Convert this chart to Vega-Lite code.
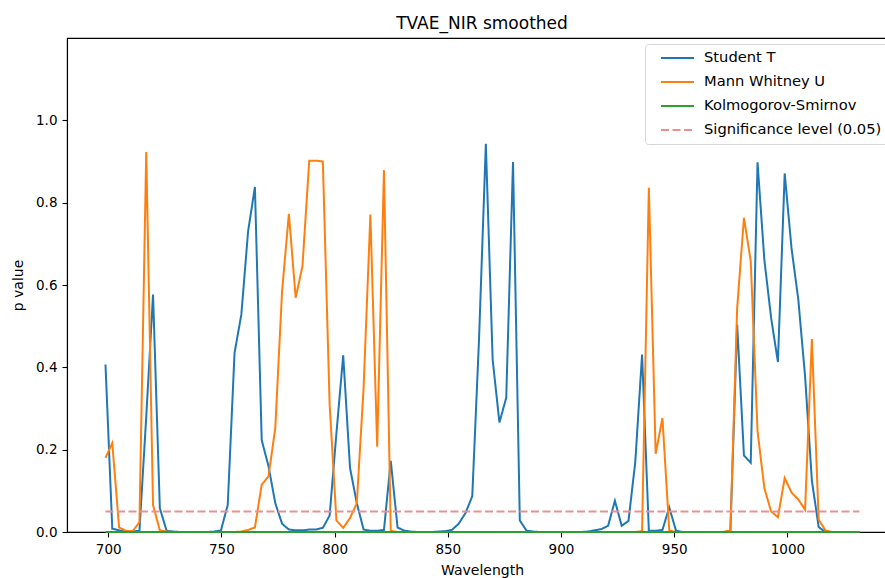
{
  "$schema": "https://vega.github.io/schema/vega-lite/v6.json",
  "width": 830,
  "height": 494,
  "autosize": {"type": "none"},
  "padding": {"left": 67, "top": 38, "right": 0, "bottom": 46},
  "background": "white",
  "title": {"text": "TVAE_NIR smoothed", "fontSize": 17, "font": "DejaVu Sans", "fontWeight": "normal", "color": "#000000", "offset": 5, "anchor": "middle"},
  "config": {
    "font": "DejaVu Sans",
    "view": {"stroke": "#000000", "strokeWidth": 1.1},
    "axis": {"domainColor": "#000000", "domainWidth": 1.1, "tickColor": "#000000", "tickWidth": 1.1, "tickSize": 5, "labelPadding": 5, "labelFontSize": 13.5, "labelColor": "#000000", "labelFont": "DejaVu Sans", "titleFont": "DejaVu Sans", "titleFontSize": 14, "titleFontWeight": "normal", "titleColor": "#000000", "grid": false}
  },
  "datasets": {
    "tests": [
      {"w": 698.8, "Student T": 0.407, "Mann Whitney U": 0.18, "Kolmogorov-Smirnov": 0},
      {"w": 701.8, "Student T": 0.008, "Mann Whitney U": 0.216, "Kolmogorov-Smirnov": 0},
      {"w": 704.8, "Student T": 0.004, "Mann Whitney U": 0.011, "Kolmogorov-Smirnov": 0},
      {"w": 707.8, "Student T": 0.001, "Mann Whitney U": 0.003, "Kolmogorov-Smirnov": 0},
      {"w": 710.8, "Student T": 0.001, "Mann Whitney U": 0.002, "Kolmogorov-Smirnov": 0},
      {"w": 713.8, "Student T": 0.003, "Mann Whitney U": 0.024, "Kolmogorov-Smirnov": 0},
      {"w": 716.8, "Student T": 0.28, "Mann Whitney U": 0.923, "Kolmogorov-Smirnov": 0},
      {"w": 719.8, "Student T": 0.577, "Mann Whitney U": 0.066, "Kolmogorov-Smirnov": 0},
      {"w": 722.8, "Student T": 0.058, "Mann Whitney U": 0.004, "Kolmogorov-Smirnov": 0},
      {"w": 725.8, "Student T": 0.003, "Mann Whitney U": 0.001, "Kolmogorov-Smirnov": 0},
      {"w": 728.8, "Student T": 0.001, "Mann Whitney U": 0, "Kolmogorov-Smirnov": 0},
      {"w": 731.8, "Student T": 0, "Mann Whitney U": 0, "Kolmogorov-Smirnov": 0},
      {"w": 734.8, "Student T": 0, "Mann Whitney U": 0, "Kolmogorov-Smirnov": 0},
      {"w": 737.8, "Student T": 0, "Mann Whitney U": 0, "Kolmogorov-Smirnov": 0},
      {"w": 740.8, "Student T": 0, "Mann Whitney U": 0, "Kolmogorov-Smirnov": 0},
      {"w": 743.8, "Student T": 0, "Mann Whitney U": 0, "Kolmogorov-Smirnov": 0},
      {"w": 746.8, "Student T": 0.001, "Mann Whitney U": 0, "Kolmogorov-Smirnov": 0},
      {"w": 749.8, "Student T": 0.004, "Mann Whitney U": 0, "Kolmogorov-Smirnov": 0},
      {"w": 752.8, "Student T": 0.066, "Mann Whitney U": 0, "Kolmogorov-Smirnov": 0},
      {"w": 755.8, "Student T": 0.435, "Mann Whitney U": 0, "Kolmogorov-Smirnov": 0},
      {"w": 758.8, "Student T": 0.528, "Mann Whitney U": 0.001, "Kolmogorov-Smirnov": 0},
      {"w": 761.8, "Student T": 0.731, "Mann Whitney U": 0.005, "Kolmogorov-Smirnov": 0},
      {"w": 764.8, "Student T": 0.838, "Mann Whitney U": 0.011, "Kolmogorov-Smirnov": 0},
      {"w": 767.8, "Student T": 0.223, "Mann Whitney U": 0.115, "Kolmogorov-Smirnov": 0},
      {"w": 770.8, "Student T": 0.16, "Mann Whitney U": 0.135, "Kolmogorov-Smirnov": 0},
      {"w": 773.8, "Student T": 0.07, "Mann Whitney U": 0.253, "Kolmogorov-Smirnov": 0},
      {"w": 776.8, "Student T": 0.02, "Mann Whitney U": 0.585, "Kolmogorov-Smirnov": 0},
      {"w": 779.8, "Student T": 0.006, "Mann Whitney U": 0.773, "Kolmogorov-Smirnov": 0},
      {"w": 782.8, "Student T": 0.004, "Mann Whitney U": 0.569, "Kolmogorov-Smirnov": 0},
      {"w": 785.8, "Student T": 0.004, "Mann Whitney U": 0.646, "Kolmogorov-Smirnov": 0},
      {"w": 788.8, "Student T": 0.006, "Mann Whitney U": 0.902, "Kolmogorov-Smirnov": 0},
      {"w": 791.8, "Student T": 0.006, "Mann Whitney U": 0.902, "Kolmogorov-Smirnov": 0},
      {"w": 794.8, "Student T": 0.01, "Mann Whitney U": 0.9, "Kolmogorov-Smirnov": 0},
      {"w": 797.8, "Student T": 0.04, "Mann Whitney U": 0.31, "Kolmogorov-Smirnov": 0},
      {"w": 800.8, "Student T": 0.24, "Mann Whitney U": 0.028, "Kolmogorov-Smirnov": 0},
      {"w": 803.8, "Student T": 0.429, "Mann Whitney U": 0.01, "Kolmogorov-Smirnov": 0},
      {"w": 806.8, "Student T": 0.156, "Mann Whitney U": 0.034, "Kolmogorov-Smirnov": 0},
      {"w": 809.8, "Student T": 0.07, "Mann Whitney U": 0.07, "Kolmogorov-Smirnov": 0},
      {"w": 812.8, "Student T": 0.006, "Mann Whitney U": 0.35, "Kolmogorov-Smirnov": 0},
      {"w": 815.8, "Student T": 0.003, "Mann Whitney U": 0.771, "Kolmogorov-Smirnov": 0},
      {"w": 818.8, "Student T": 0.003, "Mann Whitney U": 0.207, "Kolmogorov-Smirnov": 0},
      {"w": 821.8, "Student T": 0.005, "Mann Whitney U": 0.879, "Kolmogorov-Smirnov": 0},
      {"w": 824.8, "Student T": 0.173, "Mann Whitney U": 0.003, "Kolmogorov-Smirnov": 0},
      {"w": 827.8, "Student T": 0.011, "Mann Whitney U": 0, "Kolmogorov-Smirnov": 0},
      {"w": 830.8, "Student T": 0.003, "Mann Whitney U": 0, "Kolmogorov-Smirnov": 0},
      {"w": 833.8, "Student T": 0.001, "Mann Whitney U": 0, "Kolmogorov-Smirnov": 0},
      {"w": 836.8, "Student T": 0, "Mann Whitney U": 0, "Kolmogorov-Smirnov": 0},
      {"w": 839.8, "Student T": 0, "Mann Whitney U": 0, "Kolmogorov-Smirnov": 0},
      {"w": 842.8, "Student T": 0, "Mann Whitney U": 0, "Kolmogorov-Smirnov": 0},
      {"w": 845.8, "Student T": 0.001, "Mann Whitney U": 0, "Kolmogorov-Smirnov": 0},
      {"w": 848.8, "Student T": 0.002, "Mann Whitney U": 0, "Kolmogorov-Smirnov": 0},
      {"w": 851.8, "Student T": 0.005, "Mann Whitney U": 0, "Kolmogorov-Smirnov": 0},
      {"w": 854.8, "Student T": 0.02, "Mann Whitney U": 0, "Kolmogorov-Smirnov": 0},
      {"w": 857.8, "Student T": 0.046, "Mann Whitney U": 0, "Kolmogorov-Smirnov": 0},
      {"w": 860.8, "Student T": 0.087, "Mann Whitney U": 0, "Kolmogorov-Smirnov": 0},
      {"w": 863.8, "Student T": 0.47, "Mann Whitney U": 0, "Kolmogorov-Smirnov": 0},
      {"w": 866.8, "Student T": 0.943, "Mann Whitney U": 0, "Kolmogorov-Smirnov": 0},
      {"w": 869.8, "Student T": 0.419, "Mann Whitney U": 0, "Kolmogorov-Smirnov": 0},
      {"w": 872.8, "Student T": 0.266, "Mann Whitney U": 0, "Kolmogorov-Smirnov": 0},
      {"w": 875.8, "Student T": 0.326, "Mann Whitney U": 0, "Kolmogorov-Smirnov": 0},
      {"w": 878.8, "Student T": 0.899, "Mann Whitney U": 0, "Kolmogorov-Smirnov": 0},
      {"w": 881.8, "Student T": 0.028, "Mann Whitney U": 0, "Kolmogorov-Smirnov": 0},
      {"w": 884.8, "Student T": 0.003, "Mann Whitney U": 0, "Kolmogorov-Smirnov": 0},
      {"w": 887.8, "Student T": 0.001, "Mann Whitney U": 0, "Kolmogorov-Smirnov": 0},
      {"w": 890.8, "Student T": 0, "Mann Whitney U": 0, "Kolmogorov-Smirnov": 0},
      {"w": 893.8, "Student T": 0, "Mann Whitney U": 0, "Kolmogorov-Smirnov": 0},
      {"w": 896.8, "Student T": 0, "Mann Whitney U": 0, "Kolmogorov-Smirnov": 0},
      {"w": 899.8, "Student T": 0, "Mann Whitney U": 0, "Kolmogorov-Smirnov": 0},
      {"w": 902.8, "Student T": 0, "Mann Whitney U": 0, "Kolmogorov-Smirnov": 0},
      {"w": 905.8, "Student T": 0, "Mann Whitney U": 0, "Kolmogorov-Smirnov": 0},
      {"w": 908.8, "Student T": 0, "Mann Whitney U": 0, "Kolmogorov-Smirnov": 0},
      {"w": 911.8, "Student T": 0.001, "Mann Whitney U": 0, "Kolmogorov-Smirnov": 0},
      {"w": 914.8, "Student T": 0.004, "Mann Whitney U": 0, "Kolmogorov-Smirnov": 0},
      {"w": 917.8, "Student T": 0.007, "Mann Whitney U": 0, "Kolmogorov-Smirnov": 0},
      {"w": 920.8, "Student T": 0.015, "Mann Whitney U": 0, "Kolmogorov-Smirnov": 0},
      {"w": 923.8, "Student T": 0.076, "Mann Whitney U": 0, "Kolmogorov-Smirnov": 0},
      {"w": 926.8, "Student T": 0.015, "Mann Whitney U": 0, "Kolmogorov-Smirnov": 0},
      {"w": 929.8, "Student T": 0.027, "Mann Whitney U": 0, "Kolmogorov-Smirnov": 0},
      {"w": 932.8, "Student T": 0.17, "Mann Whitney U": 0, "Kolmogorov-Smirnov": 0},
      {"w": 935.8, "Student T": 0.431, "Mann Whitney U": 0.002, "Kolmogorov-Smirnov": 0},
      {"w": 938.8, "Student T": 0.003, "Mann Whitney U": 0.836, "Kolmogorov-Smirnov": 0},
      {"w": 941.8, "Student T": 0.003, "Mann Whitney U": 0.19, "Kolmogorov-Smirnov": 0},
      {"w": 944.8, "Student T": 0.005, "Mann Whitney U": 0.277, "Kolmogorov-Smirnov": 0},
      {"w": 947.8, "Student T": 0.06, "Mann Whitney U": 0.004, "Kolmogorov-Smirnov": 0},
      {"w": 950.8, "Student T": 0.003, "Mann Whitney U": 0, "Kolmogorov-Smirnov": 0},
      {"w": 953.8, "Student T": 0, "Mann Whitney U": 0, "Kolmogorov-Smirnov": 0},
      {"w": 956.8, "Student T": 0, "Mann Whitney U": 0, "Kolmogorov-Smirnov": 0},
      {"w": 959.8, "Student T": 0, "Mann Whitney U": 0, "Kolmogorov-Smirnov": 0},
      {"w": 962.8, "Student T": 0, "Mann Whitney U": 0, "Kolmogorov-Smirnov": 0},
      {"w": 965.8, "Student T": 0, "Mann Whitney U": 0, "Kolmogorov-Smirnov": 0},
      {"w": 968.8, "Student T": 0, "Mann Whitney U": 0, "Kolmogorov-Smirnov": 0},
      {"w": 971.8, "Student T": 0, "Mann Whitney U": 0, "Kolmogorov-Smirnov": 0},
      {"w": 974.8, "Student T": 0.002, "Mann Whitney U": 0.004, "Kolmogorov-Smirnov": 0},
      {"w": 977.8, "Student T": 0.504, "Mann Whitney U": 0.544, "Kolmogorov-Smirnov": 0},
      {"w": 980.8, "Student T": 0.186, "Mann Whitney U": 0.763, "Kolmogorov-Smirnov": 0},
      {"w": 983.8, "Student T": 0.168, "Mann Whitney U": 0.658, "Kolmogorov-Smirnov": 0},
      {"w": 986.8, "Student T": 0.898, "Mann Whitney U": 0.245, "Kolmogorov-Smirnov": 0},
      {"w": 989.8, "Student T": 0.662, "Mann Whitney U": 0.107, "Kolmogorov-Smirnov": 0},
      {"w": 992.8, "Student T": 0.52, "Mann Whitney U": 0.05, "Kolmogorov-Smirnov": 0},
      {"w": 995.8, "Student T": 0.413, "Mann Whitney U": 0.036, "Kolmogorov-Smirnov": 0},
      {"w": 998.8, "Student T": 0.871, "Mann Whitney U": 0.131, "Kolmogorov-Smirnov": 0},
      {"w": 1001.8, "Student T": 0.69, "Mann Whitney U": 0.096, "Kolmogorov-Smirnov": 0},
      {"w": 1004.8, "Student T": 0.565, "Mann Whitney U": 0.079, "Kolmogorov-Smirnov": 0},
      {"w": 1007.8, "Student T": 0.378, "Mann Whitney U": 0.054, "Kolmogorov-Smirnov": 0},
      {"w": 1010.8, "Student T": 0.125, "Mann Whitney U": 0.469, "Kolmogorov-Smirnov": 0},
      {"w": 1013.8, "Student T": 0.012, "Mann Whitney U": 0.03, "Kolmogorov-Smirnov": 0},
      {"w": 1016.8, "Student T": 0, "Mann Whitney U": 0.004, "Kolmogorov-Smirnov": 0},
      {"w": 1019.8, "Student T": 0, "Mann Whitney U": 0, "Kolmogorov-Smirnov": 0},
      {"w": 1022.8, "Student T": 0, "Mann Whitney U": 0, "Kolmogorov-Smirnov": 0},
      {"w": 1025.8, "Student T": 0, "Mann Whitney U": 0, "Kolmogorov-Smirnov": 0},
      {"w": 1028.8, "Student T": 0, "Mann Whitney U": 0, "Kolmogorov-Smirnov": 0},
      {"w": 1031.8, "Student T": 0, "Mann Whitney U": 0, "Kolmogorov-Smirnov": 0}
    ],
    "sig": [
      {"w": 698.8, "p": 0.05, "key": "Significance level (0.05)"},
      {"w": 1031.8, "p": 0.05, "key": "Significance level (0.05)"}
    ]
  },
  "encoding": {
    "x": {"field": "w", "type": "quantitative", "scale": {"domain": [681.8, 1048.4], "nice": false, "zero": false}, "axis": {"title": "Wavelength", "values": [700, 750, 800, 850, 900, 950, 1000], "format": "d", "titlePadding": 8}},
    "y": {"field": "p", "type": "quantitative", "scale": {"domain": [0, 1.2], "nice": false}, "axis": {"title": "p value", "values": [0, 0.2, 0.4, 0.6, 0.8, 1.0], "format": ".1f", "titlePadding": 10}},
    "color": {"field": "key", "type": "nominal", "scale": {"domain": ["Student T", "Mann Whitney U", "Kolmogorov-Smirnov", "Significance level (0.05)"], "range": ["#1f77b4", "#ff7f0e", "#2ca02c", "#ec8f8f"]},
      "legend": {"title": null, "orient": "none", "legendX": 578, "legendY": 6, "symbolType": "stroke", "symbolSize": 1089, "symbolStrokeWidth": 2, "clipHeight": 14, "rowPadding": 9, "padding": 7, "symbolOffset": 8, "labelOffset": 9, "labelFontSize": 14.7, "labelFont": "DejaVu Sans", "labelColor": "#000000", "labelLimit": 400, "strokeColor": "#d6d6d6", "fillColor": "#ffffff", "cornerRadius": 3}},
    "strokeDash": {"field": "key", "type": "nominal", "scale": {"domain": ["Student T", "Mann Whitney U", "Kolmogorov-Smirnov", "Significance level (0.05)"], "range": [[1, 0], [1, 0], [1, 0], [8, 3.5]]},
      "legend": {"title": null, "orient": "none", "legendX": 578, "legendY": 6, "symbolType": "stroke", "symbolSize": 1089, "symbolStrokeWidth": 2, "clipHeight": 14, "rowPadding": 9, "padding": 7, "symbolOffset": 8, "labelOffset": 9, "labelFontSize": 14.7, "labelFont": "DejaVu Sans", "labelColor": "#000000", "labelLimit": 400, "strokeColor": "#d6d6d6", "fillColor": "#ffffff", "cornerRadius": 3}}
  },
  "layer": [
    {
      "data": {"name": "tests"},
      "transform": [{"fold": ["Student T", "Mann Whitney U", "Kolmogorov-Smirnov"], "as": ["key", "p"]}],
      "mark": {"type": "line", "strokeWidth": 2}
    },
    {
      "data": {"name": "sig"},
      "mark": {"type": "line", "strokeWidth": 2}
    }
  ]
}
